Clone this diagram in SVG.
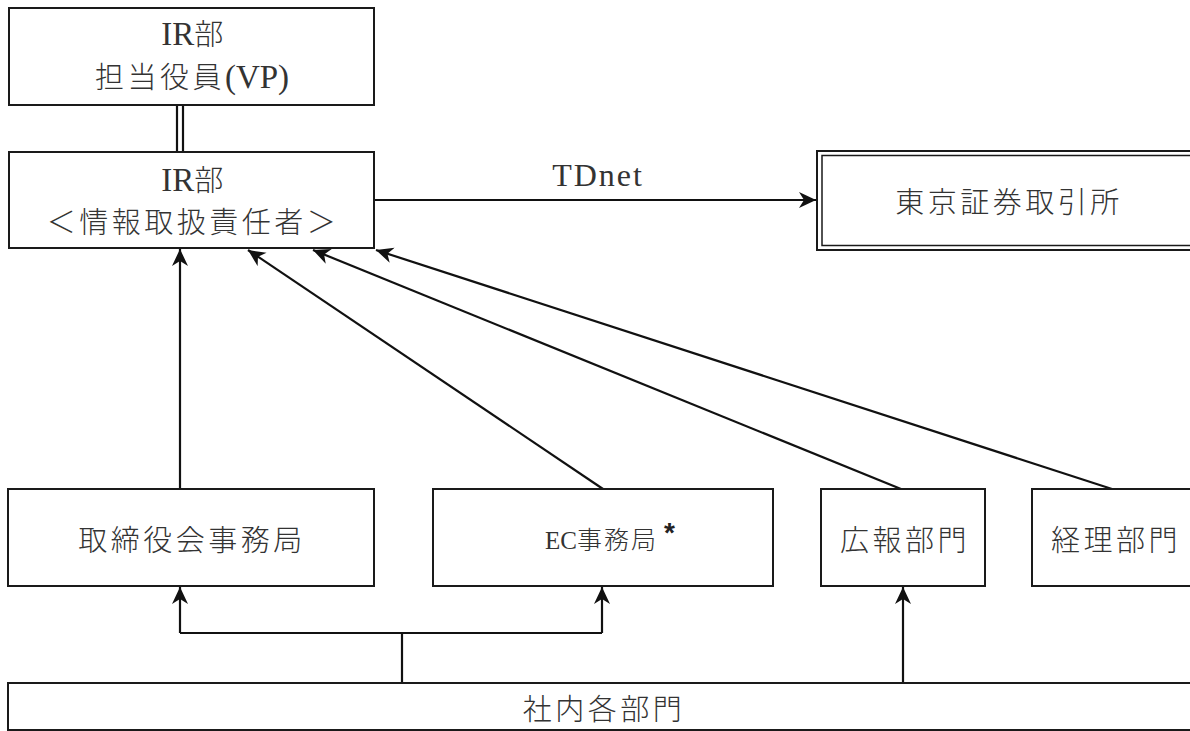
<svg xmlns="http://www.w3.org/2000/svg" width="1190" height="731" viewBox="0 0 1190 731">
<style>
.box{fill:#fff;stroke:#1a1a1a;stroke-width:2}
.t{font-family:"Liberation Serif","Noto Sans CJK JP",serif;font-size:29px;font-weight:300;fill:#333;text-anchor:middle;letter-spacing:3.5px}
.lat{font-size:33px;font-weight:400;letter-spacing:0}
.ln{fill:none;stroke:#111;stroke-width:2.2}
</style>
<defs>
<marker id="ah" markerUnits="userSpaceOnUse" markerWidth="20" markerHeight="18" refX="17" refY="8" orient="auto">
<path d="M0,0 L17,8 L0,16 L5,8 Z" fill="#111"/>
</marker>
</defs>
<rect width="1190" height="731" fill="#fff"/>
<g id="connectors">
<line class="ln" x1="177" y1="105" x2="177" y2="152"/>
<line class="ln" x1="183" y1="105" x2="183" y2="152"/>
<line class="ln" x1="374" y1="200" x2="816" y2="200" marker-end="url(#ah)"/>
<line class="ln" x1="180" y1="489" x2="180" y2="249" marker-end="url(#ah)"/>
<line class="ln" x1="603" y1="489" x2="248" y2="250" marker-end="url(#ah)"/>
<line class="ln" x1="901" y1="489" x2="313" y2="250" marker-end="url(#ah)"/>
<line class="ln" x1="1112" y1="489" x2="376" y2="250" marker-end="url(#ah)"/>
<line class="ln" x1="402" y1="683" x2="402" y2="633"/>
<polyline class="ln" points="180,633 602,633"/>
<line class="ln" x1="180" y1="633" x2="180" y2="587" marker-end="url(#ah)"/>
<line class="ln" x1="602" y1="633" x2="602" y2="587" marker-end="url(#ah)"/>
<line class="ln" x1="903" y1="683" x2="903" y2="587" marker-end="url(#ah)"/>
<text class="t" x="598" y="186" style="font-size:32px;font-weight:400;letter-spacing:2px">TDnet</text>
</g>
<g id="ir-vp">
<rect class="box" x="9" y="8" width="365" height="97"/>
<text class="t" x="194" y="45"><tspan class="lat">IR</tspan>部</text>
<text class="t" x="192" y="88">担当役員<tspan class="lat">(VP)</tspan></text>
</g>
<g id="ir-officer">
<rect class="box" x="9" y="152" width="365" height="96"/>
<text class="t" x="194" y="191"><tspan class="lat">IR</tspan>部</text>
<text class="t" x="193" y="233">＜情報取扱責任者＞</text>
</g>
<g id="tse">
<rect x="817" y="151" width="380" height="99" fill="#fff" stroke="#1a1a1a" stroke-width="2"/>
<rect x="822" y="155.5" width="380" height="90" fill="none" stroke="#1a1a1a" stroke-width="1.5"/>
<text class="t" x="1009" y="213">東京証券取引所</text>
</g>
<g id="board-office">
<rect class="box" x="8" y="489" width="366" height="97"/>
<text class="t" x="192" y="551">取締役会事務局</text>
</g>
<g id="ec-office">
<rect class="box" x="433" y="489" width="340" height="97"/>
<text class="t" x="545" y="549" style="text-anchor:start;font-size:25px;letter-spacing:2px"><tspan style="font-size:25px;font-weight:400;letter-spacing:0">EC</tspan>事務局</text>
<text x="664" y="542" style="font-family:'Liberation Sans',sans-serif;font-size:28px;font-weight:700;fill:#222">*</text>
</g>
<g id="pr">
<rect class="box" x="821" y="489" width="164" height="97"/>
<text class="t" x="905" y="551">広報部門</text>
</g>
<g id="accounting">
<rect class="box" x="1032" y="489" width="170" height="97"/>
<text class="t" x="1116" y="551">経理部門</text>
</g>
<g id="all-depts">
<rect x="8" y="683" width="1195" height="47" fill="#fff" stroke="#1a1a1a" stroke-width="2"/>
<text class="t" x="604" y="720">社内各部門</text>
</g>
</svg>
